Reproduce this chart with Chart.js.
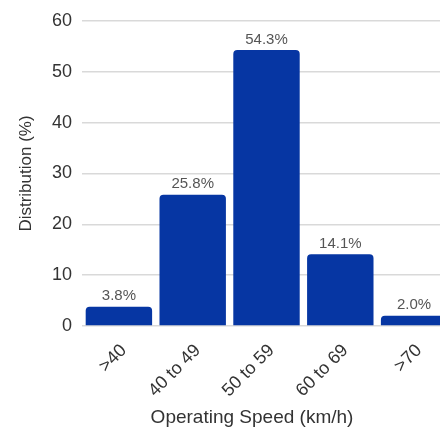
<!DOCTYPE html>
<html>
<head>
<meta charset="utf-8">
<script src="https://cdn.jsdelivr.net/npm/chart.js@4"></script>
<style>
  html, body { margin: 0; padding: 0; background: #fff; overflow: hidden; }
  #wrap { width: 451px; height: 430px; }
</style>
</head>
<body>
<div id="wrap"><canvas id="myChart"></canvas></div>
<script>
// speed bins and share of vehicles (%)
const categorias = ['>40', '40 to 49', '50 to 59', '60 to 69', '>70']
const distribucion = [3.8, 25.8, 54.3, 14.1, 2.0]
const ticksY = [0, 10, 20, 30, 40, 50, 60]
const tituloX = 'Operating Speed (km/h)'
const tituloY = 'Distribution (%)'

const fuente = 'Liberation Sans, Arial, sans-serif'

// value labels on top of each bar + x title (the original is off-centre, the chart was cropped)
const etiquetas = {
  id: 'etiquetas',
  afterDatasetsDraw(chart) {
    const ctx = chart.ctx
    const meta = chart.getDatasetMeta(0)
    ctx.save()
    ctx.font = '15px ' + fuente
    ctx.fillStyle = '#555'
    ctx.textAlign = 'center'
    ctx.textBaseline = 'bottom'
    meta.data.forEach((bar, i) => {
      ctx.fillText(distribucion[i].toFixed(1) + '%', bar.x, bar.y - 3)
    })
    ctx.font = '19px ' + fuente
    ctx.fillStyle = '#333'
    ctx.textBaseline = 'alphabetic'
    ctx.fillText(tituloX, 252, 423)
    ctx.restore()
  }
}

const data = {
  labels: categorias,
  datasets: [{
    data: distribucion,
    backgroundColor: '#0636a3',
    borderRadius: 4,
    borderSkipped: 'bottom',
    categoryPercentage: 1,
    barPercentage: 0.9
  }]
}

const config = {
  type: 'bar',
  data: data,
  options: {
    responsive: true,
    maintainAspectRatio: false,
    animation: false,
    layout: { padding: { top: 21, right: 0, left: 0, bottom: 0 } },
    plugins: {
      legend: { display: false },
      tooltip: { enabled: false }
    },
    scales: {
      x: {
        grid: { display: false },
        border: { display: false },
        ticks: {
          color: '#333',
          font: { family: fuente, size: 18 },
          minRotation: 45,
          maxRotation: 45,
          padding: 6,
          labelOffset: 5
        },
        afterFit(axis) { axis.height = 104 }
      },
      y: {
        min: 0,
        max: 60,
        afterBuildTicks(axis) { axis.ticks = ticksY.map(v => ({ value: v })) },
        grid: { color: '#d9d9d9', lineWidth: 1.5, drawTicks: false },
        border: { display: false },
        ticks: {
          color: '#333',
          font: { family: fuente, size: 18 },
          padding: 10
        },
        title: {
          display: true,
          text: tituloY,
          color: '#333',
          font: { family: fuente, size: 17 },
          padding: { top: 16, bottom: 0 }
        },
        afterFit(axis) { axis.width = 82 }
      }
    }
  },
  plugins: [etiquetas]
}

const myChart = new Chart(document.getElementById('myChart'), config)
</script>
</body>
</html>
